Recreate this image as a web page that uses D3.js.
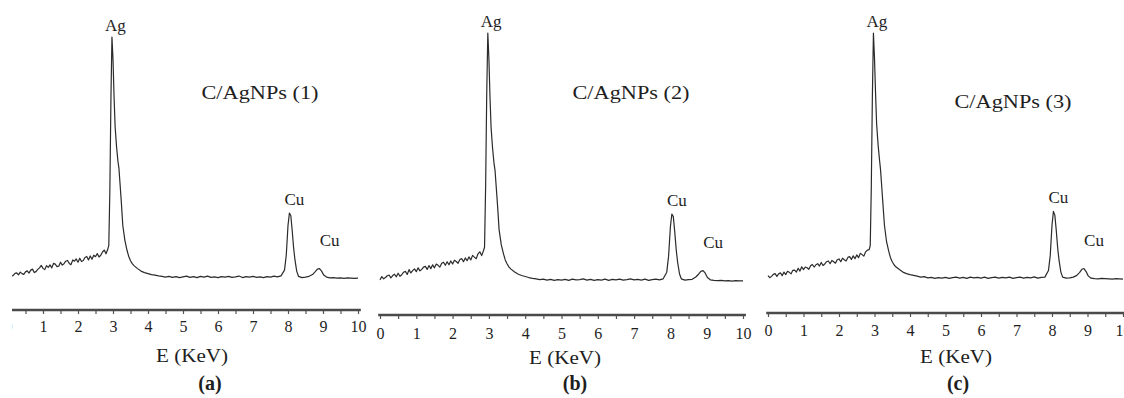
<!DOCTYPE html>
<html>
<head>
<meta charset="utf-8">
<script src="https://cdn.jsdelivr.net/npm/d3@7"></script>
<style>
  body { margin: 0; background: #fff; }
  svg { display: block; }
  text { font-family: "Liberation Serif", "Times New Roman", serif; fill: #1e1e1e; }
</style>
</head>
<body>
<svg id="chart" width="1124" height="398"></svg>
<script>
// energy grid of the spectra (keV)
const energies = [
  0.00, 0.05, 0.10, 0.15, 0.20, 0.25, 0.30, 0.35, 0.40, 0.45,
  0.50, 0.55, 0.60, 0.65, 0.70, 0.75, 0.80, 0.85, 0.90, 0.95,
  1.00, 1.05, 1.10, 1.15, 1.20, 1.25, 1.30, 1.35, 1.40, 1.45,
  1.50, 1.55, 1.60, 1.65, 1.70, 1.75, 1.80, 1.85, 1.90, 1.95,
  2.00, 2.05, 2.10, 2.15, 2.20, 2.25, 2.30, 2.35, 2.40, 2.45,
  2.50, 2.55, 2.60, 2.65, 2.70, 2.75, 2.80, 2.85, 2.88, 2.91,
  2.94, 2.97, 3.00, 3.03, 3.06, 3.10, 3.14, 3.17, 3.20, 3.24,
  3.28, 3.34, 3.40, 3.45, 3.50, 3.55, 3.60, 3.70, 3.80, 3.90,
  4.0, 4.1, 4.2, 4.3, 4.4, 4.5, 4.6, 4.7, 4.8, 4.9,
  5.0, 5.1, 5.2, 5.3, 5.4, 5.5, 5.6, 5.7, 5.8, 5.9,
  6.0, 6.1, 6.2, 6.3, 6.4, 6.5, 6.6, 6.7, 6.8, 6.9,
  7.0, 7.1, 7.2, 7.3, 7.4, 7.5, 7.6, 7.7, 7.8, 7.9,
  7.95, 8.00, 8.04, 8.08, 8.12, 8.16, 8.20, 8.25, 8.30, 8.40,
  8.50, 8.60, 8.70, 8.78, 8.84, 8.90, 8.96, 9.02, 9.10, 9.20,
  9.30, 9.40, 9.50, 9.60, 9.70, 9.80, 9.90, 10.00
];

// counts (arbitrary units, Ag peak = 100)
const countsA = [
  3.3, 4.2, 3.6, 3.9, 4.7, 4.9, 4.1, 5.2, 4.6, 4.3,
  5.3, 5.7, 4.8, 6.0, 6.4, 5.0, 5.4, 6.3, 6.9, 7.9,
  6.7, 6.2, 7.8, 7.1, 8.1, 6.9, 8.7, 8.4, 7.4, 7.6,
  9.2, 8.0, 8.6, 9.6, 9.9, 8.7, 8.2, 10.1, 9.6, 10.5,
  9.2, 10.8, 9.5, 9.9, 11.1, 11.5, 10.1, 11.7, 10.4, 12.0,
  11.4, 12.7, 11.3, 12.0, 13.3, 14.1, 12.6, 14.4, 16, 38,
  74, 100, 91, 76, 64, 56, 50, 47, 41, 33,
  24, 18, 14, 11.5, 9.8, 8.6, 7.8, 6.6, 5.6, 5.0,
  4.6, 4.2, 4.0, 3.7, 3.5, 3.2, 3.5, 3.1, 3.4, 3.0,
  3.3, 3.6, 3.1, 3.4, 3.0, 3.5, 3.2, 3.6, 3.1, 3.3,
  3.0, 3.4, 3.2, 3.5, 3.1, 3.3, 3.6, 3.0, 3.4, 3.2,
  3.5, 3.1, 3.3, 3.0, 3.4, 3.2, 3.6, 3.3, 3.7, 6.0,
  12, 24, 29, 28, 22, 15, 10, 5.5, 3.5, 3.0,
  3.2, 3.5, 4.2, 5.4, 6.4, 6.6, 5.6, 4.0, 3.2, 2.9,
  3.0, 2.8, 2.9, 2.7, 2.9, 2.8, 2.7, 2.8
];
const countsB = [
  3.2, 4.5, 3.6, 4.1, 4.8, 5.1, 4.0, 4.9, 5.4, 4.4,
  5.8, 4.6, 5.2, 6.2, 6.5, 5.3, 7.2, 5.9, 6.8, 7.5,
  6.4, 7.9, 6.7, 7.3, 8.2, 8.5, 7.3, 8.8, 7.6, 9.1,
  7.9, 9.4, 8.9, 8.2, 9.7, 10.1, 8.9, 10.3, 9.1, 10.6,
  9.4, 10.9, 10.4, 9.7, 11.2, 11.5, 10.3, 11.8, 10.7, 12.2,
  11.0, 12.8, 12.1, 11.5, 13.4, 14.2, 12.7, 14.6, 16, 40,
  76, 100, 90, 75, 63, 55, 49, 46, 40, 32,
  23, 17, 13.5, 11, 9.5, 8.3, 7.5, 6.4, 5.5, 4.9,
  4.5, 4.1, 3.8, 3.6, 3.3, 3.5, 3.1, 3.4, 3.0, 3.3,
  3.1, 3.4, 3.0, 3.5, 3.2, 3.3, 3.6, 3.1, 3.4, 3.0,
  3.3, 3.1, 3.5, 3.0, 3.4, 3.2, 3.5, 3.1, 3.3, 3.6,
  3.2, 3.4, 3.1, 3.5, 3.0, 3.3, 3.5, 3.2, 3.6, 6.2,
  12.5, 24, 29, 28, 22, 15, 10, 5.6, 3.6, 3.1,
  3.3, 3.4, 4.3, 5.5, 6.5, 6.8, 5.8, 4.1, 3.2, 3.0,
  2.9, 3.0, 2.8, 2.9, 2.7, 2.9, 2.8, 2.8
];
const countsC = [
  4.1, 3.3, 3.8, 4.6, 4.9, 3.8, 4.8, 5.2, 4.1, 5.5,
  4.5, 5.8, 5.4, 4.8, 6.2, 6.3, 5.5, 7.0, 5.9, 7.6,
  6.5, 7.5, 7.2, 6.6, 8.0, 8.5, 7.5, 8.4, 8.8, 7.9,
  9.3, 8.1, 8.7, 9.6, 9.9, 8.8, 10.1, 9.6, 9.0, 10.4,
  10.7, 9.6, 11.0, 10.4, 9.9, 11.3, 11.6, 10.5, 11.9, 10.8,
  12.3, 11.2, 12.9, 12.4, 11.8, 13.5, 14.2, 14.4, 16, 39,
  75, 100, 90, 76, 64, 56, 50, 46, 40, 32,
  24, 17.5, 13.8, 11.2, 9.6, 8.4, 7.6, 6.5, 5.5, 4.9,
  4.5, 4.2, 3.9, 3.5, 3.7, 3.2, 3.4, 3.0, 3.3, 3.1,
  3.4, 3.0, 3.3, 3.5, 3.1, 3.4, 3.0, 3.5, 3.2, 3.4,
  3.1, 3.5, 3.0, 3.3, 3.5, 3.1, 3.4, 3.2, 3.5, 3.0,
  3.3, 3.5, 3.1, 3.4, 3.2, 3.6, 3.1, 3.4, 3.5, 6.1,
  12, 24, 29.5, 28, 22, 15, 10, 5.5, 3.5, 3.1,
  3.2, 3.5, 4.2, 5.4, 6.6, 6.9, 5.7, 4.0, 3.1, 2.9,
  2.8, 3.0, 2.9, 2.8, 2.7, 2.9, 2.8, 2.7
];

const sampleNames = ["C/AgNPs (1)", "C/AgNPs (2)", "C/AgNPs (3)"];
const panelTags = ["(a)", "(b)", "(c)"];
const peakNames = ["Ag", "Cu", "Cu"];
const peakEnergies = [2.98, 8.04, 8.93];
const tickValues = [0, 0.5, 1, 1.5, 2, 2.5, 3, 3.5, 4, 4.5, 5, 5.5, 6, 6.5, 7, 7.5, 8, 8.5, 9, 9.5, 10];
const axisTitle = "E (KeV)";

[countsA, countsB, countsC].forEach(c => {
  if (c.length !== energies.length) throw new Error("length mismatch " + c.length + " vs " + energies.length);
});

// layout of the three scanned panels
const panels = [
  { counts: countsA, x0: 8,   x10: 358,  clipLeft: 12, yZero: 285, yTop: 37, axisY: 310, tickPad: 7,
    titleX: 260, titleY: 99, axisTitleX: 192, axisTitleY: 362, tagX: 210, tagY: 390 },
  { counts: countsB, x0: 380, x10: 743,  clipLeft: 0,  yZero: 288, yTop: 33, axisY: 315, tickPad: 9,
    titleX: 631, titleY: 99, axisTitleX: 565, axisTitleY: 364, tagX: 575, tagY: 390 },
  { counts: countsC, x0: 768, x10: 1123, clipLeft: 0,  yZero: 286, yTop: 33, axisY: 313, tickPad: 8,
    titleX: 1013, titleY: 108, axisTitleX: 956, axisTitleY: 363, tagX: 958, tagY: 390 }
];

// label offsets from the peak top: [dx, dy]
const labelOffsets = [[3, -6], [5, -8], [9, -23]];

const svg = d3.select("#chart");

panels.forEach((p, i) => {
  const x = d3.scaleLinear().domain([0, 10]).range([p.x0, p.x10]);
  const y = d3.scaleLinear().domain([0, 100]).range([p.yZero, p.yTop]);

  let g = svg.append("g");
  if (p.clipLeft) {
    svg.append("clipPath").attr("id", "clip" + i)
      .append("rect").attr("x", p.clipLeft).attr("y", 0).attr("width", 1124).attr("height", 398);
    g.attr("clip-path", `url(#clip${i})`);
  }

  const pts = energies.map((e, k) => [e, p.counts[k]]);
  const line = d3.line().x(d => x(d[0])).y(d => y(d[1]));

  g.append("path")
    .datum(pts)
    .attr("fill", "none")
    .attr("stroke", "#2b2b2b")
    .attr("stroke-width", 1.2)
    .attr("stroke-linejoin", "round")
    .attr("d", line);

  // energy axis
  const axis = d3.axisBottom(x)
    .tickValues(tickValues)
    .tickSize(4)
    .tickSizeOuter(0)
    .tickPadding(p.tickPad)
    .tickFormat(d => Number.isInteger(d) ? d : "");

  const ax = g.append("g")
    .attr("transform", `translate(0,${p.axisY})`)
    .call(axis)
    .attr("font-size", null)
    .attr("font-family", null);
  ax.select(".domain").remove();
  ax.append("line")
    .attr("x1", x(-0.05)).attr("x2", x(10.08))
    .attr("stroke", "#4a4a4a").attr("stroke-width", 2.5);
  ax.selectAll(".tick line").attr("stroke", "#555").attr("stroke-width", 1.2);
  ax.selectAll(".tick text")
    .style("font-size", "16px")
    .attr("fill", "#2a2a2a");

  g.append("text")
    .attr("x", p.axisTitleX).attr("y", p.axisTitleY)
    .attr("text-anchor", "middle")
    .attr("font-size", 19)
    .attr("textLength", 72).attr("lengthAdjust", "spacingAndGlyphs")
    .text(axisTitle);

  g.append("text")
    .attr("x", p.tagX).attr("y", p.tagY)
    .attr("text-anchor", "middle")
    .attr("font-size", 20)
    .attr("font-weight", "bold")
    .text(panelTags[i]);

  g.append("text")
    .attr("x", p.titleX).attr("y", p.titleY)
    .attr("text-anchor", "middle")
    .attr("font-size", 19)
    .attr("textLength", 117).attr("lengthAdjust", "spacingAndGlyphs")
    .text(sampleNames[i]);

  // element labels above the peaks
  peakNames.forEach((name, j) => {
    const e = peakEnergies[j];
    const top = d3.max(pts.filter(d => Math.abs(d[0] - e) < 0.1), d => d[1]);
    g.append("text")
      .attr("x", x(e) + labelOffsets[j][0])
      .attr("y", y(top) + labelOffsets[j][1])
      .attr("text-anchor", "middle")
      .attr("font-size", 17)
      .text(name);
  });
});
</script>
</body>
</html>
